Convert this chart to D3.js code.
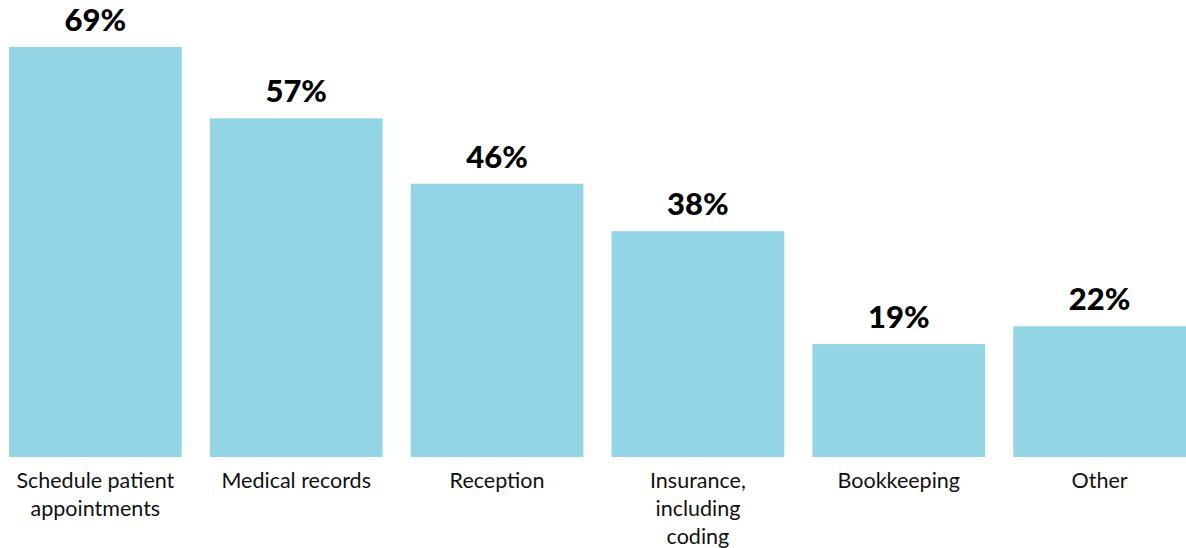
<!DOCTYPE html>
<html>
<head>
<meta charset="utf-8">
<script src="https://cdn.jsdelivr.net/npm/d3@7"></script>
<style>
  html, body { margin: 0; padding: 0; background: #fff; }
  svg { display: block; }
</style>
</head>
<body>
<svg id="chart" width="1186" height="548"></svg>
<script>
// Share of practices using each task
const categories = [
  ["Schedule patient", "appointments"],
  ["Medical records"],
  ["Reception"],
  ["Insurance,", "including", "coding"],
  ["Bookkeeping"],
  ["Other"]
];
const values = [69, 57, 46, 38, 19, 22];

const svg = d3.select("#chart");
const baseline = 457;

const x = d3.scaleBand()
  .domain(d3.range(categories.length))
  .range([9, 1186])
  .paddingInner(0.14)
  .paddingOuter(0);

const y = d3.scaleLinear()
  .domain([0, 69])
  .range([baseline, 47]);

// Bars
svg.append("g")
  .selectAll("rect")
  .data(values)
  .join("rect")
  .attr("x", (d, i) => x(i))
  .attr("y", d => y(d))
  .attr("width", x.bandwidth())
  .attr("height", d => baseline - y(d))
  .attr("fill", "#94d5e5");

// Value labels above bars
svg.append("g")
  .selectAll("text")
  .data(values)
  .join("text")
  .attr("x", (d, i) => x(i) + x.bandwidth() / 2)
  .attr("y", d => y(d) - 16)
  .attr("text-anchor", "middle")
  .attr("font-family", "Lato, 'Open Sans', sans-serif")
  .attr("font-weight", 900)
  .attr("font-size", 31)
  .attr("fill", "#000")
  .text(d => d + "%");

// Category labels below bars
const cat = svg.append("g")
  .selectAll("text")
  .data(categories)
  .join("text")
  .attr("x", (d, i) => x(i) + x.bandwidth() / 2)
  .attr("y", 488)
  .attr("text-anchor", "middle")
  .attr("font-family", "Lato, 'Open Sans', sans-serif")
  .attr("font-size", 21.5)
  .attr("fill", "#111");

cat.selectAll("tspan")
  .data(d => d)
  .join("tspan")
  .attr("x", function () { return d3.select(this.parentNode).attr("x"); })
  .attr("dy", (d, i) => i === 0 ? 0 : 28)
  .text(d => d);
</script>
</body>
</html>
